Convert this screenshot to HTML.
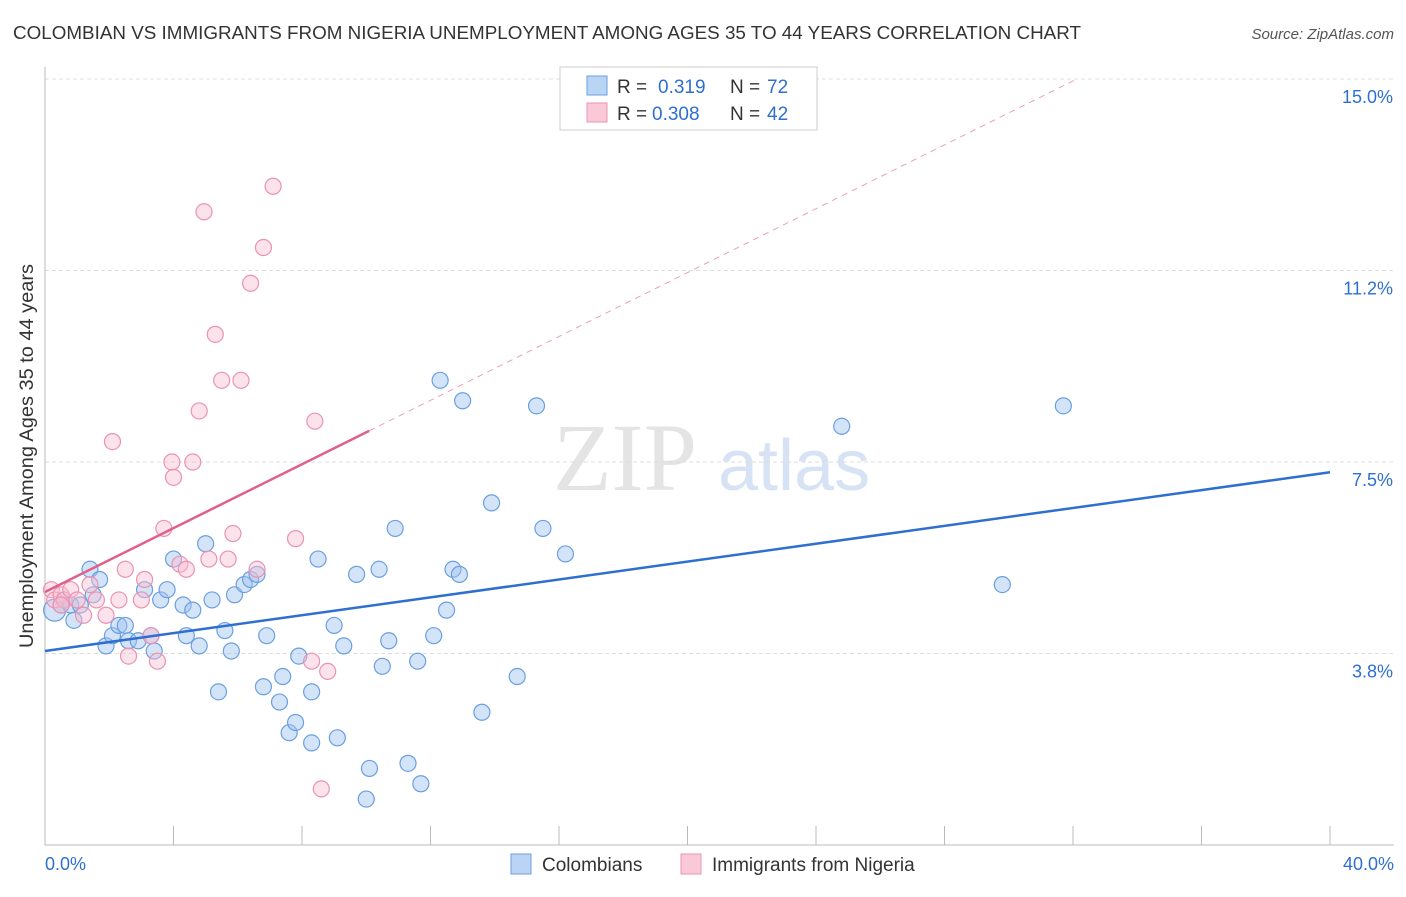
<!DOCTYPE html>
<html><head><meta charset="utf-8"><style>
body{margin:0;background:#fff;font-family:"Liberation Sans",sans-serif;}
</style></head><body>
<svg id="chart" width="1406" height="892" xmlns="http://www.w3.org/2000/svg" font-family="Liberation Sans, sans-serif">
<text x="13" y="39" font-size="18" fill="#333" textLength="1068" lengthAdjust="spacingAndGlyphs">COLOMBIAN VS IMMIGRANTS FROM NIGERIA UNEMPLOYMENT AMONG AGES 35 TO 44 YEARS CORRELATION CHART</text>
<text x="1394" y="39" font-size="15" fill="#555" text-anchor="end" font-style="italic">Source: ZipAtlas.com</text>
<text x="553" y="490" font-size="96" fill="#e4e4e4" font-family="Liberation Serif, serif">ZIP</text>
<text x="718" y="490" font-size="72" fill="#d7e3f4">atlas</text>
<g id="grid"></g>
<g id="axes"></g>
<g id="marks"></g>
<text transform="translate(33,456) rotate(-90)" font-size="19" fill="#333" text-anchor="middle" textLength="384" lengthAdjust="spacingAndGlyphs">Unemployment Among Ages 35 to 44 years</text>
<g>
<rect x="560" y="67" width="257" height="63" fill="#fff" stroke="#ccc"/>
<rect x="587" y="76" width="20" height="19" fill="#b9d4f5" stroke="#6a9fe0"/>
<rect x="587" y="103" width="20" height="19" fill="#f9c9d8" stroke="#e993b0"/>
<text x="617" y="93" font-size="19" fill="#333">R = </text>
<text x="658" y="93" font-size="19" fill="#2e6fd0">0.319</text>
<text x="730" y="93" font-size="19" fill="#333">N = </text>
<text x="767" y="93" font-size="19" fill="#2e6fd0">72</text>
<text x="617" y="120" font-size="19" fill="#333">R = </text>
<text x="652" y="120" font-size="19" fill="#2e6fd0">0.308</text>
<text x="730" y="120" font-size="19" fill="#333">N = </text>
<text x="767" y="120" font-size="19" fill="#2e6fd0">42</text>
</g>
<g>
<rect x="511" y="854" width="20" height="20" fill="#b9d4f5" stroke="#6a9fe0"/>
<text x="542" y="871" font-size="19" fill="#333">Colombians</text>
<rect x="681" y="854" width="20" height="20" fill="#f9c9d8" stroke="#e993b0"/>
<text x="712" y="871" font-size="19" fill="#333">Immigrants from Nigeria</text>
</g>
</svg>
<script>
const blueX=[0.3,0.5,0.6,0.8,0.9,1.1,1.4,1.5,1.7,1.9,2.1,2.3,2.5,2.6,2.9,3.1,3.3,3.4,3.6,3.8,4.0,4.3,4.4,4.6,4.8,5.0,5.2,5.4,5.6,5.8,5.9,6.2,6.4,6.6,6.8,6.9,7.3,7.4,7.6,7.8,7.9,8.3,8.3,8.5,9.0,9.1,9.3,9.7,10.1,10.0,10.4,10.5,10.7,10.9,11.3,11.6,11.7,12.1,12.3,12.5,12.7,12.9,13.0,13.6,13.9,14.7,15.3,15.5,16.2,24.8,29.8,31.7];
const blueY=[4.6,4.7,4.8,4.7,4.4,4.7,5.4,4.9,5.2,3.9,4.1,4.3,4.3,4.0,4.0,5.0,4.1,3.8,4.8,5.0,5.6,4.7,4.1,4.6,3.9,5.9,4.8,3.0,4.2,3.8,4.9,5.1,5.2,5.3,3.1,4.1,2.8,3.3,2.2,2.4,3.7,3.0,2.0,5.6,4.3,2.1,3.9,5.3,1.5,0.9,5.4,3.5,4.0,6.2,1.6,3.6,1.2,4.1,9.1,4.6,5.4,5.3,8.7,2.6,6.7,3.3,8.6,6.2,5.7,8.2,5.1,8.6];
const pinkX=[0.2,0.3,0.5,0.6,0.8,1.0,1.2,1.4,1.6,1.9,2.1,2.3,2.5,2.6,3.0,3.1,3.3,3.5,3.7,3.950,4.0,4.2,4.4,4.6,4.8,4.95,5.1,5.3,5.5,5.7,5.85,6.1,6.4,6.6,6.8,7.1,7.8,8.3,8.4,8.6,8.8,0.5];
const pinkY=[5.0,4.8,4.9,4.8,5.0,4.8,4.5,5.1,4.8,4.5,7.9,4.8,5.4,3.7,4.8,5.2,4.1,3.6,6.2,7.5,7.2,5.5,5.4,7.5,8.5,12.4,5.6,10.0,9.1,5.6,6.1,9.1,11.0,5.4,11.7,12.9,6.0,3.6,8.3,1.1,3.4,4.7];
const xTicks=[0,4,8,12,16,20,24,28,32,36,40];
const yTicks=[3.75,7.5,11.25,15];
const yTickLabels=["3.8%","7.5%","11.2%","15.0%"];
const blueTrend=[3.8,7.3];
const pinkTrend=[4.955,0.3127];
const X=v=>45+v*(1285/40), Y=v=>79+(15-v)*51.07;
const NS="http://www.w3.org/2000/svg";
function mk(tag,attrs,parent){const e=document.createElementNS(NS,tag);for(const k in attrs)e.setAttribute(k,attrs[k]);document.getElementById(parent).appendChild(e);return e;}
yTicks.forEach((t,i)=>{
 const l=mk('line',{x1:45,x2:1394,y1:Y(t),y2:Y(t),stroke:'#ddd','stroke-dasharray':'4,3'},'grid');
 
 
 const tx=mk('text',{x:1393,y:Y(t)+24,'font-size':18,fill:'#2e6fd0','text-anchor':'end'},'grid');
 tx.textContent=yTickLabels[i];
 
 
});
const ax=mk('line',{x1:45,x2:45,y1:67,y2:845,stroke:'#bbb'},'axes');


const bx=mk('line',{x1:45,x2:1394,y1:845,y2:845,stroke:'#bbb'},'axes');


xTicks.forEach(t=>{
 const l=mk('line',{x1:X(t),x2:X(t),y1:826,y2:845,stroke:'#bbb'},'axes');
 
 
});
[[0,"0.0%",'start',45],[40,"40.0%",'end',1394]].forEach(d=>{
 const tx=mk('text',{x:d[3],y:870,'font-size':18,fill:'#2e6fd0','text-anchor':d[2]},'axes');
 tx.textContent=d[1];
 
 
});
blueX.forEach((x,i)=>{
 const c=mk('circle',{cx:X(x),cy:Y(blueY[i]),r:i==0?11:8,fill:'rgba(160,196,240,0.45)',stroke:'#6a9fe0','stroke-width':1.2},'marks');
 
 
});
pinkX.forEach((x,i)=>{
 const c=mk('circle',{cx:X(x),cy:Y(pinkY[i]),r:8,fill:'rgba(248,190,210,0.45)',stroke:'#e993b0','stroke-width':1.2},'marks');
 
 
});
const bl=mk('line',{x1:X(0),y1:Y(blueTrend[0]),x2:X(40),y2:Y(blueTrend[1]),stroke:'#2e6fd0','stroke-width':2.5},'marks');


const pxEnd=10.09, pxDash=(15-pinkTrend[0])/pinkTrend[1];
const pl=mk('line',{x1:X(0),y1:Y(pinkTrend[0]),x2:X(pxEnd),y2:Y(pinkTrend[0]+pinkTrend[1]*pxEnd),stroke:'#e0608a','stroke-width':2.5},'marks');


const pd=mk('line',{x1:X(pxEnd),y1:Y(pinkTrend[0]+pinkTrend[1]*pxEnd),x2:X(pxDash),y2:Y(15),stroke:'#eaa0b8','stroke-width':1,'stroke-dasharray':'6,5'},'marks');


</script>
</body></html>
